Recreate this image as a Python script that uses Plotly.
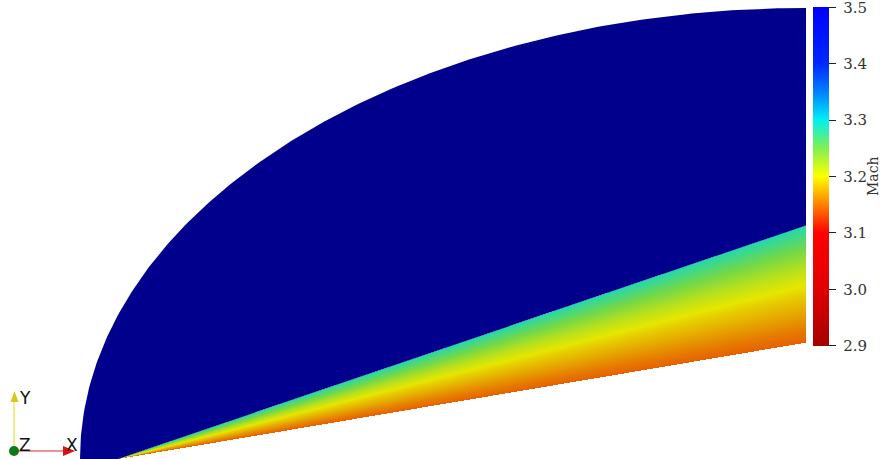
import numpy as np
import plotly.graph_objects as go

# ---------------- data ----------------
# conical shock-layer: Mach number along rays from the cone apex (angle in degrees)
ray_angle_deg = [9.6, 10.5, 11.5, 12.5, 13.5, 14.5, 15.5, 16.5, 17.5, 18.75]
mach_on_ray = [3.142, 3.152, 3.165, 3.178, 3.19, 3.205, 3.22, 3.24, 3.26, 3.285]
cone_half_angle = 9.6      # deg
shock_angle = 18.75        # deg
body_length = 6.88         # outlet plane x
inlet_semi_x = 7.26        # elliptical inflow boundary semi-axis (x)
inlet_semi_y = 4.51        # elliptical inflow boundary semi-axis (y)
freestream_mach = 3.5

tick_values = [2.9, 3.0, 3.1, 3.2, 3.3, 3.4, 3.5]
tick_labels = ["2.9", "3.0", "3.1", "3.2", "3.3", "3.4", "3.5"]
cmin, cmax = 2.9, 3.5
colorbar_title = "Mach"

mach_scale = [
    (2.90, (165, 0, 0)),
    (3.00, (225, 0, 0)),
    (3.10, (255, 0, 0)),
    (3.15, (255, 128, 0)),
    (3.20, (255, 255, 0)),
    (3.25, (128, 240, 80)),
    (3.30, (0, 240, 240)),
    (3.35, (0, 128, 255)),
    (3.40, (0, 40, 255)),
    (3.50, (0, 0, 255)),
]
surface_shading = 0.9

def rgb(c, k=1.0):
    return "rgb(%d,%d,%d)" % tuple(round(v * k) for v in c)

colorscale = [[(v - cmin) / (cmax - cmin), rgb(c)] for v, c in mach_scale]
field_colorscale = [[(v - cmin) / (cmax - cmin), rgb(c, surface_shading)] for v, c in mach_scale]

# ---------------- geometry / field ----------------
W, H = 883, 459
x_lo, x_hi = -1.18, 7.65
y_lo, y_hi = 0.0, 4.59

step = 0.01
xs = np.arange(step / 2, body_length, step)
shock_y_out = body_length * np.tan(np.radians(shock_angle))
ys = np.arange(step / 2, shock_y_out + step, step)
XX, YY = np.meshgrid(xs, ys)
ang = np.degrees(np.arctan2(YY, XX))
Z = np.interp(ang, ray_angle_deg, mach_on_ray)
Z[(ang < cone_half_angle) | (ang > shock_angle)] = np.nan
Z = np.round(Z, 4)

# freestream region polygon (inflow ellipse -> outlet -> shock -> apex)
t = np.linspace(np.pi, np.pi / 2, 200)
ex = body_length + inlet_semi_x * np.cos(t)
ey = inlet_semi_y * np.sin(t)
poly_x = list(ex) + [body_length, body_length, 0.0, ex[0]]
poly_y = list(ey) + [inlet_semi_y, shock_y_out, 0.0, 0.0]

eps = 0.0005
fig = go.Figure()
fig.add_trace(go.Heatmap(
    x=xs, y=ys, z=Z, zmin=cmin - eps, zmax=cmax + eps, colorscale=field_colorscale,
    hoverongaps=False, showscale=False,
))
fig.add_trace(go.Scatter(
    x=poly_x, y=poly_y, fill="toself", fillcolor="rgb(0,0,140)",
    mode="lines", line=dict(width=0, color="rgb(0,0,140)"),
    hoverinfo="skip", showlegend=False,
))
# colour legend (unshaded map), carried by an empty marker trace
fig.add_trace(go.Scatter(
    x=[None], y=[None], mode="markers", hoverinfo="skip", showlegend=False,
    marker=dict(
        color=[freestream_mach], cmin=cmin - eps, cmax=cmax + eps, colorscale=colorscale,
        showscale=True,
        colorbar=dict(
            x=813 / W, xanchor="left", xpad=0,
            y=1 - 7 / H, yanchor="top", ypad=0,
            len=339 / H, lenmode="fraction", thickness=16,
            outlinewidth=0,
            ticks="outside", ticklen=7, tickwidth=1, tickcolor="#222",
            tickvals=tick_values, ticktext=["\u00a0" + s for s in tick_labels],
            ticklabeloverflow="allow",
            tickfont=dict(family="DejaVu Serif", size=15, color="#333"),
        ),
    ),
))

# ---------------- orientation triad (decoration, pixel positions) ----------------
def px(x):
    return x / W

def py(y):
    return 1 - y / H

shapes = [
    dict(type="line", xref="paper", yref="paper", x0=px(14), y0=py(451), x1=px(14), y1=py(400),
         line=dict(color="#f0ee8c", width=2)),
    dict(type="path", xref="paper", yref="paper",
         path=f"M {px(10.5)} {py(402)} L {px(18.5)} {py(402)} L {px(14.5)} {py(391)} Z",
         fillcolor="#d6c81e", line=dict(width=0)),
    dict(type="line", xref="paper", yref="paper", x0=px(14), y0=py(451), x1=px(64), y1=py(451),
         line=dict(color="#e07070", width=1.5)),
    dict(type="path", xref="paper", yref="paper",
         path=f"M {px(63)} {py(446)} L {px(63)} {py(456)} L {px(75)} {py(451)} Z",
         fillcolor="#e01010", line=dict(width=0)),
    dict(type="circle", xref="paper", yref="paper", x0=px(9), y0=py(456), x1=px(19), y1=py(446),
         fillcolor="#0d7a1a", line=dict(width=0)),
]
annotations = [
    dict(text="Y", xref="paper", yref="paper", x=px(24.5), y=py(397.5), showarrow=False,
         xanchor="center", yanchor="middle",
         font=dict(family="DejaVu Sans", size=17, color="#111")),
    dict(text="Z", xref="paper", yref="paper", x=px(24.5), y=py(444.5), showarrow=False,
         xanchor="center", yanchor="middle",
         font=dict(family="DejaVu Sans", size=17, color="#111")),
    dict(text="X", xref="paper", yref="paper", x=px(71.5), y=py(445), showarrow=False,
         xanchor="center", yanchor="middle",
         font=dict(family="DejaVu Sans", size=17, color="#111")),
    dict(text=colorbar_title, xref="paper", yref="paper", x=px(873), y=py(176), showarrow=False,
         xanchor="center", yanchor="middle", textangle=-90, borderpad=0,
         font=dict(family="DejaVu Serif", size=14, color="#333")),
]

fig.update_layout(
    width=W, height=H,
    margin=dict(l=0, r=0, t=0, b=0, pad=0, autoexpand=False),
    paper_bgcolor="white", plot_bgcolor="white",
    xaxis=dict(range=[x_lo, x_hi], visible=False, fixedrange=True),
    yaxis=dict(range=[y_lo, y_hi], visible=False, fixedrange=True),
    shapes=shapes, annotations=annotations, showlegend=False,
)
fig.write_html(
    "out.html",
    config={"displayModeBar": False},
    post_script="document.body.style.margin='0px';document.body.style.overflow='hidden';",
)
